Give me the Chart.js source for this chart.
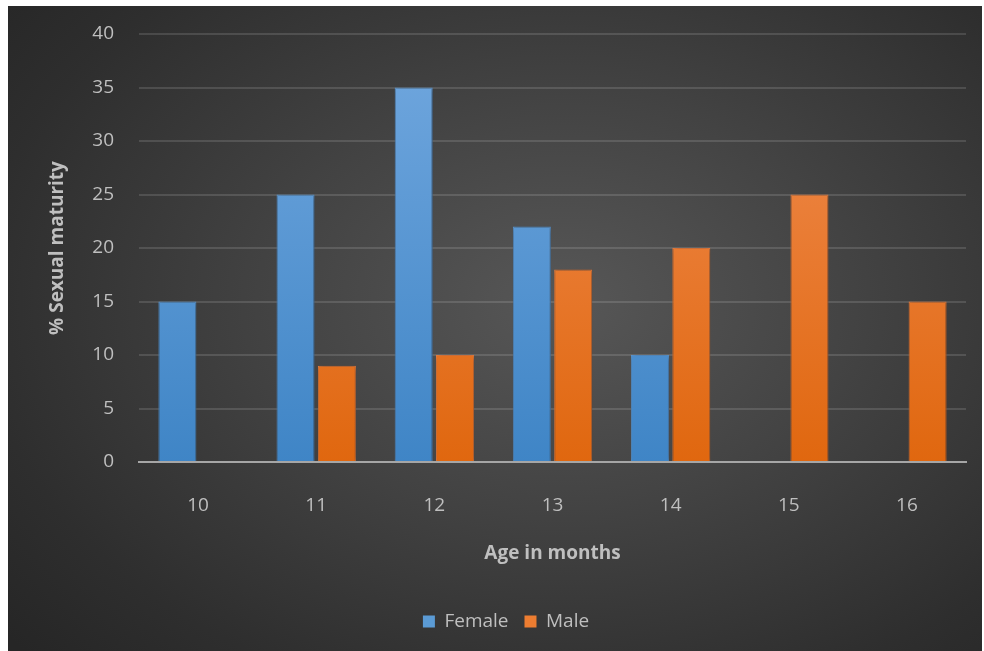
<!DOCTYPE html>
<html>
<head>
<meta charset="utf-8">
<script src="https://cdn.jsdelivr.net/npm/chart.js@4/dist/chart.umd.min.js"></script>
<style>
  html, body { margin: 0; padding: 0; background: #ffffff; }
  #wrap {
    position: absolute; left: 8px; top: 6px; width: 974px; height: 645px;
    background: radial-gradient(ellipse 75% 80% at 57% 46%, #575757 0%, #434343 40%, #2e2e2e 80%, #262626 100%);
  }
</style>
</head>
<body>
<div id="wrap"><canvas id="maturityChart" width="974" height="645"></canvas></div>
<script>
const ageLabels = ["10", "11", "12", "13", "14", "15", "16"];
const femaleValues = [15, 25, 35, 22, 10, 0, 0];
const maleValues = [0, 9, 10, 18, 20, 25, 15];
const yTicks = [0, 5, 10, 15, 20, 25, 30, 35, 40];

const textColor = "#bfbfbf";
const fontFamily = "'Open Sans', 'Noto Sans', sans-serif";

// vertical gradient for the bars, same look as the office style
function barFill(context, top, bottom) {
  const area = context.chart.chartArea;
  if (!area) return bottom;
  const g = context.chart.ctx.createLinearGradient(0, area.top, 0, area.bottom);
  g.addColorStop(0, top);
  g.addColorStop(1, bottom);
  return g;
}

const shadowPlugin = {
  id: "barShadow",
  beforeDatasetsDraw(chart) {
    const ctx = chart.ctx;
    ctx.save();
    ctx.shadowColor = "rgba(0,0,0,0.45)";
    ctx.shadowBlur = 6;
    ctx.shadowOffsetX = 1;
    ctx.shadowOffsetY = 1;
  },
  afterDatasetsDraw(chart) {
    chart.ctx.restore();
  },
};

const ctx = document.getElementById("maturityChart").getContext("2d");
const maturityChart = new Chart(ctx, {
  type: "bar",
  data: {
    labels: ageLabels,
    datasets: [
      {
        label: "Female",
        data: femaleValues,
        backgroundColor: (c) => barFill(c, "#72a8df", "#3f85c6"),
        borderColor: "#5d9ad6",
        borderWidth: 1,
        categoryPercentage: 0.7,
        barPercentage: 0.92,
      },
      {
        label: "Male",
        data: maleValues,
        backgroundColor: (c) => barFill(c, "#f18e54", "#e0670f"),
        borderColor: "#ee8040",
        borderWidth: 1,
        categoryPercentage: 0.7,
        barPercentage: 0.92,
      },
    ],
  },
  options: {
    responsive: false,
    animation: false,
    layout: { padding: { top: 28, right: 16, bottom: 10, left: 38 } },
    plugins: {
      tooltip: { enabled: false },
      legend: {
        position: "bottom",
        labels: {
          color: textColor,
          font: { family: fontFamily, size: 19 },
          boxWidth: 12,
          boxHeight: 12,
          padding: 16,
          generateLabels: (chart) =>
            chart.data.datasets.map((ds, i) => ({
              text: ds.label,
              fillStyle: i === 0 ? "#5b9bd5" : "#ed7d31",
              strokeStyle: i === 0 ? "#5b9bd5" : "#ed7d31",
              lineWidth: 0,
              fontColor: textColor,
              datasetIndex: i,
            })),
        },
      },
    },
    scales: {
      x: {
        grid: { display: false, drawTicks: false },
        border: { display: true, color: "#a6a6a6", width: 2 },
        ticks: { color: textColor, font: { family: fontFamily, size: 19 }, padding: 32 },
        title: {
          display: true,
          text: "Age in months",
          color: textColor,
          font: { family: fontFamily, size: 19, weight: "bold" },
          padding: { top: 0, bottom: 31 },
        },
        afterFit: (scale) => { scale.height = 134; },
      },
      y: {
        min: 0,
        max: 40,
        afterBuildTicks: (scale) => { scale.ticks = yTicks.map((v) => ({ value: v })); },
        grid: {
          color: "rgba(255,255,255,0.13)",
          lineWidth: 2,
          drawTicks: true,
          tickLength: 20,
          tickColor: "rgba(0,0,0,0)",
        },
        border: { display: false },
        ticks: { color: textColor, font: { family: fontFamily, size: 19 }, padding: 5 },
        title: {
          display: true,
          text: "% Sexual maturity",
          color: textColor,
          font: { family: fontFamily, size: 19, weight: "bold" },
          padding: { top: 0, bottom: 0 },
        },
        afterFit: (scale) => { scale.width = 93; },
      },
    },
  },
  plugins: [shadowPlugin],
});
</script>
</body>
</html>
